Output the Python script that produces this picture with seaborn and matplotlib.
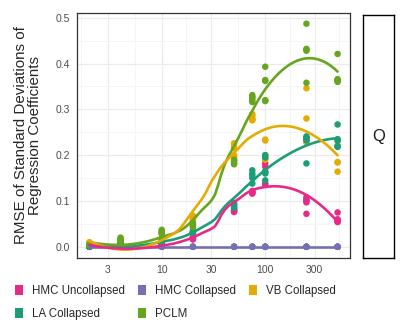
import numpy as np
import pandas as pd
import matplotlib
matplotlib.use('Agg')
import matplotlib.pyplot as plt
from matplotlib.patches import Patch
from matplotlib.ticker import FixedLocator, NullFormatter
import seaborn as sns

sns.set_theme(style='white')
plt.rcParams['font.family'] = ['Liberation Sans', 'DejaVu Sans']

# -----------------------------------------------------------
# Data (5 replicates per sample size,
# overlapping dots estimated)
n_vals = [2, 4, 10, 20, 50, 75, 100, 250, 500]

hmc_uncollapsed = [[0.003, 0.002, 0.002, 0.001, 0.001],
                   [0.001, 0.001, 0.0, 0.0, 0.0],
                   [0.006, 0.005, 0.004, 0.004, 0.003],
                   [0.022, 0.020, 0.018, 0.017, 0.016],
                   [0.083, 0.080, 0.079, 0.077, 0.076],
                   [0.122, 0.120, 0.118, 0.118, 0.116],
                   [0.182, 0.175, 0.163, 0.138, 0.136],
                   [0.108, 0.103, 0.100, 0.097, 0.072],
                   [0.075, 0.060, 0.058, 0.055, 0.054]]
hmc_collapsed   = [[0.0, 0.0, 0.0, 0.0, 0.0]] * 9
vb_collapsed    = [[0.010, 0.009, 0.008, 0.008, 0.007],
                   [0.004, 0.003, 0.003, 0.002, 0.002],
                   [0.020, 0.018, 0.016, 0.015, 0.014],
                   [0.068, 0.065, 0.062, 0.060, 0.057],
                   [0.226, 0.220, 0.215, 0.200, 0.195],
                   [0.290, 0.285, 0.280, 0.278, 0.276],
                   [0.234, 0.232, 0.200, 0.193, 0.190],
                   [0.346, 0.280, 0.232, 0.230, 0.228],
                   [0.230, 0.220, 0.185, 0.184, 0.164]]
la_collapsed    = [[0.002, 0.001, 0.0, 0.0, 0.0],
                   [0.009, 0.008, 0.007, 0.006, 0.006],
                   [0.012, 0.011, 0.010, 0.010, 0.009],
                   [0.035, 0.033, 0.032, 0.030, 0.030],
                   [0.096, 0.092, 0.090, 0.087, 0.085],
                   [0.167, 0.160, 0.155, 0.150, 0.138],
                   [0.200, 0.195, 0.165, 0.160, 0.145],
                   [0.241, 0.238, 0.236, 0.232, 0.182],
                   [0.267, 0.235, 0.232, 0.220, 0.218]]
pclm            = [[0.005, 0.004, 0.004, 0.003, 0.003],
                   [0.020, 0.018, 0.016, 0.015, 0.013],
                   [0.037, 0.034, 0.032, 0.030, 0.028],
                   [0.052, 0.050, 0.047, 0.045, 0.042],
                   [0.190, 0.188, 0.185, 0.182, 0.180],
                   [0.331, 0.327, 0.325, 0.320, 0.316],
                   [0.393, 0.364, 0.362, 0.320, 0.318],
                   [0.487, 0.432, 0.430, 0.428, 0.358],
                   [0.421, 0.366, 0.364, 0.362, 0.360]]

methods = ['HMC Uncollapsed', 'HMC Collapsed', 'VB Collapsed', 'LA Collapsed', 'PCLM']
series  = [hmc_uncollapsed, hmc_collapsed, vb_collapsed, la_collapsed, pclm]
colors  = ['#E7298A', '#7570B3', '#E6AB02', '#1B9E77', '#66A61E']
x_ticks = [3, 10, 30, 100, 300]
y_ticks = [0.0, 0.1, 0.2, 0.3, 0.4, 0.5]
# -----------------------------------------------------------

palette = dict(zip(methods, colors))

rows = []
for m, s in zip(methods, series):
   for n, reps in zip(n_vals, s):
      for v in reps:
         rows.append((m, n, v))
df = pd.DataFrame(rows, columns=['method', 'n', 'rmse'])


# loess smoother (span 0.75, local quadratic, tricube weights) on log10(n)
def loess(x, y, xs, span=0.75):
   q = int(np.floor(len(x) * span))
   fit = []
   for x0 in xs:
      d = np.abs(x - x0)
      h = np.sort(d)[q - 1]
      w = np.clip(1 - (d / h) ** 3, 0, 1) ** 3
      A = np.vstack([np.ones_like(x), x - x0, (x - x0) ** 2]).T
      sw = np.sqrt(w)
      beta = np.linalg.lstsq(A * sw[:, None], y * sw, rcond=None)[0]
      fit.append(beta[0])
   return np.array(fit)


curves = []
for m in methods:
   sub = df[df['method'] == m]
   lx = np.log10(sub['n'].values.astype(float))
   grid = np.linspace(lx.min(), lx.max(), 80)
   fit = loess(lx, sub['rmse'].values, grid)
   curves.append(pd.DataFrame({'method': m, 'n': 10 ** grid, 'fit': fit}))
curves = pd.concat(curves)

fig = plt.figure(figsize=(4.0, 3.31), dpi=100)
ax = fig.add_axes([77 / 400, (331 - 258) / 331, 273 / 400, 245.3 / 331])

sns.scatterplot(data=df, x='n', y='rmse', hue='method', palette=palette,
                s=22, linewidth=0, legend=False, ax=ax, zorder=3)
draw_order = ['HMC Collapsed', 'LA Collapsed', 'PCLM', 'VB Collapsed', 'HMC Uncollapsed']
for m in draw_order:
   sns.lineplot(data=curves[curves['method'] == m], x='n', y='fit', color=palette[m],
                lw=1.9, ax=ax, legend=False, zorder=4)

ax.set_xscale('log')
lo, hi = np.log10(min(n_vals)), np.log10(max(n_vals))
pad = 0.05 * (hi - lo)
ax.set_xlim(10 ** (lo - pad), 10 ** (hi + pad))
ax.set_ylim(-0.0245, 0.511)

lt = np.log10(x_ticks)
minor_x = list((lt[:-1] + lt[1:]) / 2) + [lt[0] - (lt[1] - lt[0]) / 2, lt[-1] + (lt[-1] - lt[-2]) / 2]
ax.xaxis.set_major_locator(FixedLocator(x_ticks))
ax.xaxis.set_minor_locator(FixedLocator(10 ** np.array(minor_x)))
ax.xaxis.set_minor_formatter(NullFormatter())
ax.set_xticklabels([str(t) for t in x_ticks])
ax.yaxis.set_major_locator(FixedLocator(y_ticks))
ax.yaxis.set_minor_locator(FixedLocator([0.05, 0.15, 0.25, 0.35, 0.45]))
ax.set_yticklabels(['%.1f' % t for t in y_ticks])

ax.grid(which='major', color='#EBEBEB', lw=0.9)
ax.grid(which='minor', color='#F4F4F4', lw=0.6)
ax.set_axisbelow(True)
for sp in ax.spines.values():
   sp.set_color('#333333')
   sp.set_linewidth(0.9)
ax.tick_params(which='major', length=0, labelsize=7.5, labelcolor='#4D4D4D', pad=5)
ax.tick_params(which='minor', length=0)
ax.set_xlabel('')
ax.set_ylabel('RMSE of Standard Deviations of\nRegression Coefficients',
              fontsize=10.9, labelpad=10, linespacing=1.0)

# facet strip on the right
sax = fig.add_axes([363 / 400, (331 - 257.7) / 331, 31 / 400, 242.7 / 331])
sax.set_xticks([])
sax.set_yticks([])
for sp in sax.spines.values():
   sp.set_color('black')
   sp.set_linewidth(1.0)
sax.text(0.5, 0.5, 'Q', ha='center', va='center', fontsize=12, color='#1A1A1A',
         transform=sax.transAxes)

leg_order = ['HMC Uncollapsed', 'LA Collapsed', 'HMC Collapsed', 'PCLM', 'VB Collapsed']
handles = [Patch(facecolor=palette[m], edgecolor='none', label=m) for m in leg_order]
fig.legend(handles=handles, loc='upper left', bbox_to_anchor=(10 / 400, 1 - 280 / 331),
           ncol=3, frameon=False, fontsize=8.3, handlelength=0.7, handleheight=0.95,
           handletextpad=0.8, columnspacing=1.1, labelspacing=0.95, borderaxespad=0)

fig.savefig('out.png', dpi=100)
